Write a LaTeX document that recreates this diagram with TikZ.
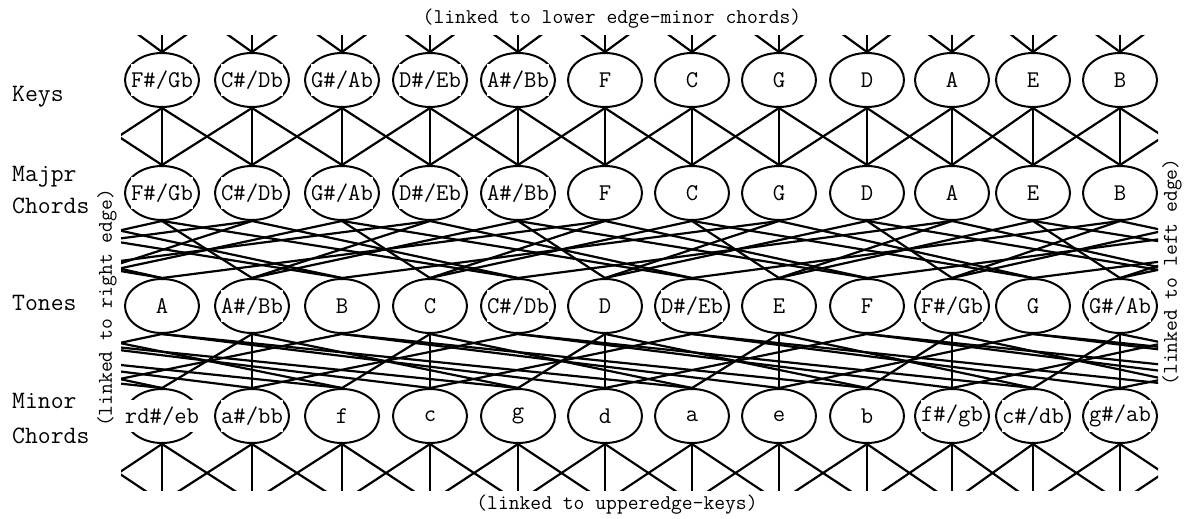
\documentclass[tikz,border=0pt]{standalone}
\usepackage{fontspec}
\usetikzlibrary{shapes,calc,positioning}
\def\wrapwidth{1045}

\begin{document}
\begin{tikzpicture}[x=1pt,y=-1pt,
  chord/.style={draw,ellipse,line width=2pt,minimum width=74pt,minimum height=54pt,inner sep=0pt},
  chordtext/.style={fill=white,inner xsep=0.5pt,minimum height=32pt,font=\ttfamily\fontsize{24}{26}\selectfont},
  link/.style={line width=2.2pt},
  rowlabel/.style={anchor=base west,inner sep=0pt,font=\ttfamily\fontsize{25}{27}\selectfont},
  edgelabel/.style={inner sep=0pt,font=\ttfamily\fontsize{21}{23}\selectfont}
]

\useasboundingbox (0,0) rectangle (1186,519);

% the four rows
\foreach \x/\lab [count=\i from 0] in {162/{F\#/Gb},252/{C\#/Db},342/{G\#/Ab},430/{D\#/Eb},518/{A\#/Bb},605/F,692/C,779/G,867/D,952/A,1033/E,1120/B}
  \node[chord,label={[chordtext,name=kt\i]center:\lab}] (k\i) at (\x,80) {};
\foreach \lab [count=\i from 0] in {F\#/Gb,C\#/Db,G\#/Ab,D\#/Eb,A\#/Bb,F,C,G,D,A,E,B}
  \node[chord,label={[chordtext,name=Mt\i]center:\lab}] (M\i) at ($(k\i)+(0,113)$) {};
\foreach \lab [count=\i from 0] in {A,A\#/Bb,B,C,C\#/Db,D,D\#/Eb,E,F,F\#/Gb,G,G\#/Ab}
  \node[chord,label={[chordtext,name=Tt\i]center:\lab}] (T\i) at ($(M\i)+(0,113)$) {};
\foreach \lab [count=\i from 0] in {rd\#/eb,a\#/bb,f,c,g,d,a,e,b,f\#/gb,c\#/db,g\#/ab}
  \node[chord,label={[chordtext,name=mt\i]center:\lab}] (m\i) at ($(T\i)+(0,110)$) {};

% copies of the rows one period to the left and right
\foreach \c in {-12,...,23} {
  \pgfmathtruncatemacro\r{mod(\c+24,12)}
  \pgfmathsetmacro\sh{(\c-\r)/12*\wrapwidth}
  \coordinate (kn\c) at ($(k\r.north)+(\sh,0)$);
  \coordinate (ks\c) at ($(k\r.south)+(\sh,0)$);
  \coordinate (Mn\c) at ($(M\r.north)+(\sh,0)$);
  \coordinate (Ms\c) at ($(M\r.south)+(\sh,0)$);
  \coordinate (Tn\c) at ($(T\r.north)+(\sh,0)$);
  \coordinate (Ts\c) at ($(T\r.south)+(\sh,0)$);
  \coordinate (mn\c) at ($(m\r.north)+(\sh,0)$);
  \coordinate (ms\c) at ($(m\r.south)+(\sh,0)$);
  \coordinate (mup\c) at ($(kn\c)+(0,-64)$);
  \coordinate (kdown\c) at ($(ms\c)+(0,58)$);
}

\begin{scope}
\clip (121,0) rectangle (1158,519);
% keys -- major chords
\foreach \c in {-1,...,12}
  \foreach \d in {-1,0,1} {
    \pgfmathtruncatemacro\t{\c+\d}
    \draw[link] (ks\c) -- (Mn\t);
  }
% major chords -- tones
\foreach \c in {-6,...,17} {
  \ifodd\c \def\offs{3,-5,-2}\else \def\offs{-3,1,4}\fi
  \foreach \d in \offs {
    \pgfmathtruncatemacro\t{\c+\d}
    \draw[link] (Ms\c) -- (Tn\t);
  }
}
% tones -- minor chords
\foreach \c in {-6,...,17} {
  \ifodd\c \def\offs{0,3,-5}\else \def\offs{-6,-3,1}\fi
  \foreach \d in \offs {
    \pgfmathtruncatemacro\t{\c+\d}
    \draw[link] (Ts\t) -- (mn\c);
  }
}
\end{scope}

% minor chords -- keys, cut at the lower edge
\begin{scope}
\clip (121,0) rectangle (1158,490);
\foreach \c in {-1,...,12}
  \foreach \d in {-1,0,1} {
    \pgfmathtruncatemacro\t{\c+\d}
    \draw[link] (ms\c) -- (kdown\t);
  }
\end{scope}

% and again at the upper edge
\begin{scope}
\clip (121,36) rectangle (1158,519);
\foreach \c in {-1,...,12}
  \foreach \d in {-1,0,1} {
    \pgfmathtruncatemacro\t{\c+\d}
    \draw[link] (kn\c) -- (mup\t);
  }
\end{scope}

\node[rowlabel] (keyslab) at (12,102) {Keys};
\node[rowlabel] (majlab) at (12,181) {Majpr};
\node[rowlabel] (majlabb) at (12,213) {Chords};
\node[rowlabel] (toneslab) at (12,310) {Tones};
\node[rowlabel] (minlab) at (12,408) {Minor};
\node[rowlabel] (minlabb) at (12,443) {Chords};

\node[edgelabel] (toplink) at (612,19) {(linked to lower edge-minor chords)};
\node[edgelabel] (botlink) at (617,505) {(linked to upperedge-keys)};
\node[edgelabel,rotate=90] (leftlink) at (107,308) {(linked to right edge)};
\node[edgelabel,rotate=90] (rightlink) at (1172,272) {(linked to left edge)};

\end{tikzpicture}
\end{document}
